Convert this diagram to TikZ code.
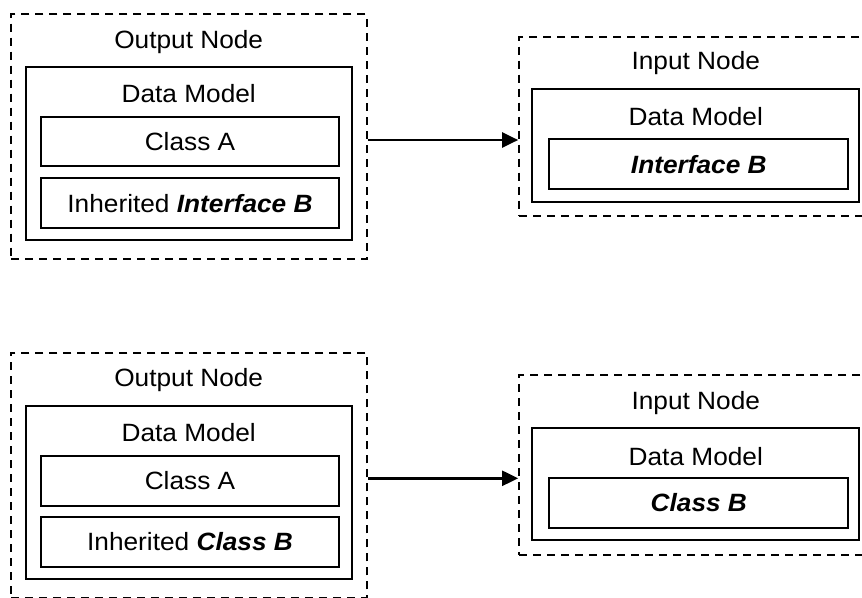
\documentclass[tikz,border=0pt]{standalone}
\usepackage{fontspec}
\setmainfont{Liberation Sans}[FakeStretch=1.05]
\usetikzlibrary{arrows.meta}
\tikzset{
  x=1pt, y=-1pt,
  nodebox/.style={draw, dash pattern=on 8pt off 6pt, line width=1.7pt, inner sep=0pt},
  modelbox/.style={draw, line width=2.2pt, inner sep=0pt},
  itembox/.style={draw, line width=2.2pt, inner sep=0pt},
  caption/.style={inner sep=0pt, font=\fontsize{25}{30}\selectfont},
  flow/.style={line width=2.4pt, -{Triangle[length=16pt,width=15pt]}}
}
\newcommand{\bx}[6]{% name, style, x1, y1, x2, y2
  \node[#2, minimum width={#5-#3}, minimum height={#6-#4}] (#1) at ({(#3+#5)/2},{(#4+#6)/2}) {};}
\begin{document}
\begin{tikzpicture}
\useasboundingbox (0,0) rectangle (862,597);
\clip (0,0) rectangle (862,597);
\fill[white] (0,0) rectangle (862,597);

% ---- top pair: interface ----
\bx{outA}{nodebox}{11}{14}{366.7}{259}
\bx{dmA}{modelbox}{25.7}{66.7}{351.7}{240}
\bx{clsA}{itembox}{40.7}{117.3}{339.3}{166}
\bx{inhA}{itembox}{40.7}{178.3}{339.3}{228.3}
\node[caption] at (188.7,41.7) {Output Node};
\node[caption] at (188.7,94) {Data Model};
\node[caption] at (clsA) {Class A};
\node[caption] at (inhA) {Inherited \textbf{\textit{Interface B}}};

\bx{inA}{nodebox}{519}{36.7}{872.6}{215.7}
\bx{dmB}{modelbox}{532.3}{89.3}{859.3}{201.7}
\bx{ifB}{itembox}{549.3}{139.3}{848.3}{189.3}
\node[caption] at (695.8,62.7) {Input Node};
\node[caption] at (695.8,116.7) {Data Model};
\node[caption] at (ifB) {\textbf{\textit{Interface B}}};

\draw[flow] (outA.east |- 0,140) -- (inA.west |- 0,140);

% ---- bottom pair: class ----
\bx{outC}{nodebox}{11}{352.7}{366.7}{597.7}
\bx{dmC}{modelbox}{25.7}{406}{351.7}{579.3}
\bx{clsC}{itembox}{40.7}{456}{339.3}{505.7}
\bx{inhC}{itembox}{40.7}{517.3}{339.3}{566.7}
\node[caption] at (188.7,380) {Output Node};
\node[caption] at (188.7,432.7) {Data Model};
\node[caption] at (clsC) {Class A};
\node[caption] at (inhC) {Inherited \textbf{\textit{Class B}}};

\bx{inC}{nodebox}{519}{375}{872.6}{555}
\bx{dmD}{modelbox}{532.3}{428.3}{859.3}{540.3}
\bx{clsD}{itembox}{549.3}{478.3}{848.3}{527.7}
\node[caption] at (695.8,402.7) {Input Node};
\node[caption] at (695.8,456.7) {Data Model};
\node[caption] at (clsD) {\textbf{\textit{Class B}}};

\draw[flow] (outC.east |- 0,478.3) -- (inC.west |- 0,478.3);
\end{tikzpicture}
\end{document}
